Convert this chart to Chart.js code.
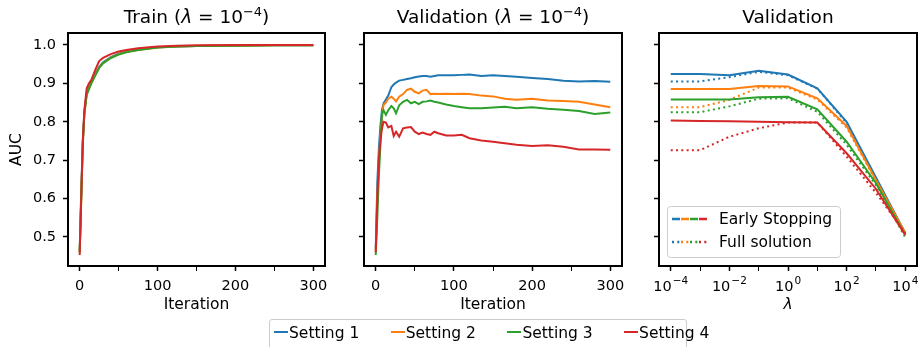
<!DOCTYPE html>
<html>
<head>
<meta charset="utf-8">
<script src="https://cdn.jsdelivr.net/npm/chart.js@4.4.1/dist/chart.umd.min.js"></script>
<style>
  body { margin: 0; background: #fff; }
  #wrap { position: relative; width: 923px; height: 347px; overflow: hidden; font-family: "DejaVu Sans", sans-serif; color: #000; }
  #wrap canvas { position: absolute; left: 0; top: 0; }
  .titulo { position: absolute; top: 6px; font-size: 18.5px; line-height: 22px; text-align: center; white-space: nowrap; }
  .titulo sup { font-size: 13px; vertical-align: 7px; line-height: 0; }
  #leyenda { position: absolute; left: 269px; top: 319px; width: 418px; height: 30px; border: 1px solid #ccc; border-radius: 3px; box-sizing: border-box; }
  .item { position: absolute; top: 3px; font-size: 15.5px; line-height: 20px; white-space: nowrap; }
  .item span.linea { display: inline-block; width: 14px; height: 2px; vertical-align: 5px; margin-right: 1px; }
</style>
</head>
<body>
<div id="wrap">
  <canvas id="train" width="923" height="347"></canvas>
  <canvas id="valid" width="923" height="347"></canvas>
  <canvas id="lambda" width="923" height="347"></canvas>
  <div class="titulo" style="left:68px;width:257px">Train (<i>λ</i> = 10<sup>−4</sup>)</div>
  <div class="titulo" style="left:364px;width:258px">Validation (<i>λ</i> = 10<sup>−4</sup>)</div>
  <div class="titulo" style="left:659px;width:258px">Validation</div>
  <div id="leyenda"></div>
</div>
<script>
// Datos
var settings = ["Setting 1", "Setting 2", "Setting 3", "Setting 4"];
var colores = ["#1f77b4", "#ff7f0e", "#2ca02c", "#d62728"];

// Train (lambda = 1e-4)
var trainIter = [0, 2, 4, 6, 9, 12, 15, 20, 25, 30, 40, 50, 60, 75, 100, 125, 150, 200, 250, 300];
var trainAuc1 = [0.465, 0.62, 0.75, 0.825, 0.875, 0.89, 0.903, 0.925, 0.943, 0.955, 0.968, 0.977, 0.983, 0.988, 0.994, 0.996, 0.997, 0.998, 0.999, 0.999];
var trainAuc2 = [0.46, 0.61, 0.745, 0.82, 0.872, 0.887, 0.9, 0.922, 0.941, 0.953, 0.967, 0.976, 0.982, 0.987, 0.993, 0.996, 0.997, 0.998, 0.999, 0.999];
var trainAuc3 = [0.46, 0.6, 0.74, 0.82, 0.87, 0.885, 0.9, 0.92, 0.94, 0.952, 0.966, 0.975, 0.981, 0.987, 0.993, 0.996, 0.997, 0.998, 0.999, 0.999];
var trainAuc4 = [0.453, 0.6, 0.75, 0.83, 0.887, 0.9, 0.909, 0.935, 0.958, 0.966, 0.976, 0.983, 0.987, 0.991, 0.996, 0.998, 0.999, 1.0, 1.0, 1.0];

// Validation (lambda = 1e-4)
var validIter = [0, 2, 4, 6, 8, 10, 13, 16, 20, 23, 26, 30, 35, 40, 45, 50, 55, 60, 65, 70, 75, 80, 90, 100, 110, 120, 135, 150, 165, 180, 200, 220, 240, 260, 280, 300];
var validAuc1 = [0.47, 0.64, 0.73, 0.79, 0.83, 0.848, 0.858, 0.868, 0.89, 0.897, 0.902, 0.907, 0.909, 0.911, 0.913, 0.916, 0.918, 0.919, 0.919, 0.917, 0.919, 0.921, 0.921, 0.921, 0.922, 0.923, 0.919, 0.921, 0.919, 0.917, 0.914, 0.911, 0.907, 0.905, 0.906, 0.904];
var validAuc2 = [0.465, 0.6, 0.7, 0.76, 0.81, 0.844, 0.85, 0.86, 0.865, 0.86, 0.853, 0.865, 0.872, 0.883, 0.886, 0.878, 0.874, 0.881, 0.883, 0.872, 0.873, 0.872, 0.873, 0.872, 0.873, 0.872, 0.868, 0.866, 0.86, 0.857, 0.86, 0.855, 0.854, 0.852, 0.845, 0.838];
var validAuc3 = [0.453, 0.55, 0.66, 0.74, 0.822, 0.83, 0.818, 0.83, 0.841, 0.835, 0.822, 0.843, 0.852, 0.857, 0.848, 0.852, 0.846, 0.852, 0.853, 0.855, 0.852, 0.85, 0.845, 0.841, 0.838, 0.835, 0.835, 0.837, 0.839, 0.835, 0.838, 0.834, 0.831, 0.828, 0.82, 0.824];
var validAuc4 = [0.46, 0.6, 0.7, 0.75, 0.783, 0.8, 0.798, 0.785, 0.789, 0.763, 0.774, 0.761, 0.783, 0.785, 0.786, 0.774, 0.768, 0.772, 0.768, 0.766, 0.774, 0.77, 0.764, 0.764, 0.766, 0.757, 0.751, 0.748, 0.744, 0.74, 0.737, 0.739, 0.735, 0.728, 0.728, 0.727];

// Validation vs lambda
var lambdas = [1e-4, 1e-3, 1e-2, 1e-1, 1, 10, 100, 1000, 10000];
var esAuc1 = [0.924, 0.924, 0.921, 0.933, 0.923, 0.887, 0.80, 0.655, 0.51];
var esAuc2 = [0.885, 0.885, 0.885, 0.893, 0.892, 0.861, 0.789, 0.648, 0.511];
var esAuc3 = [0.858, 0.858, 0.858, 0.864, 0.865, 0.832, 0.748, 0.64, 0.505];
var esAuc4 = [0.803, 0.802, 0.801, 0.800, 0.799, 0.798, 0.718, 0.625, 0.505];
var fullAuc1 = [0.905, 0.905, 0.916, 0.93, 0.921, 0.886, 0.797, 0.65, 0.505];
var fullAuc2 = [0.838, 0.838, 0.857, 0.889, 0.889, 0.858, 0.785, 0.645, 0.508];
var fullAuc3 = [0.825, 0.825, 0.84, 0.86, 0.861, 0.826, 0.74, 0.635, 0.499];
var fullAuc4 = [0.726, 0.726, 0.761, 0.783, 0.798, 0.798, 0.709, 0.615, 0.51];

var yTicks = [0.5, 0.6, 0.7, 0.8, 0.9, 1.0];
var iterTicks = [0, 50, 100, 150, 200, 250, 300];
var lambdaExp = [-4, -3, -2, -1, 0, 1, 2, 3, 4];

var fuente = "'DejaVu Sans', sans-serif";

function pares(xs, ys) {
    var out = [];
    for (var i = 0; i < xs.length; i++) out.push({ x: xs[i], y: ys[i] });
    return out;
}

// marco negro alrededor del area del grafico
var marco = {
    id: 'marco',
    afterDraw: function (chart) {
        var a = chart.chartArea, ctx = chart.ctx;
        ctx.save();
        ctx.strokeStyle = '#000';
        ctx.lineWidth = 2;
        ctx.strokeRect(a.left, a.top, a.right - a.left, a.bottom - a.top);
        ctx.restore();
    }
};

function ejeY(ancho, conEtiquetas) {
    return {
        type: 'linear', min: 0.4245, max: 1.031,
        afterBuildTicks: function (s) { s.ticks = yTicks.map(function (v) { return { value: v }; }); },
        afterFit: function (s) { s.width = ancho; },
        grid: { drawOnChartArea: false, tickLength: 5, tickColor: '#000', tickWidth: 1.5 },
        border: { display: false },
        ticks: {
            padding: 7, color: '#000', font: { family: fuente, size: 14.5 },
            callback: function (v) { return conEtiquetas ? v.toFixed(1) : ''; }
        },
        title: { display: conEtiquetas, text: 'AUC', color: '#000', font: { family: fuente, size: 15.5 }, padding: { top: 8, bottom: 0 } }
    };
}

function ejeIter() {
    return {
        type: 'linear', min: -15, max: 315,
        afterBuildTicks: function (s) { s.ticks = iterTicks.map(function (v) { return { value: v }; }); },
        afterFit: function (s) { s.height = 81; },
        grid: {
            drawOnChartArea: false, tickLength: 5, tickColor: '#000',
            tickWidth: function (c) { return c.tick && c.tick.value % 100 ? 1 : 1.5; }
        },
        border: { display: false },
        ticks: {
            padding: 7, color: '#000', maxRotation: 0, autoSkip: false, font: { family: fuente, size: 14.5 },
            callback: function (v) { return v % 100 === 0 ? String(v) : ''; }
        },
        title: { display: true, text: 'Iteration', color: '#000', font: { family: fuente, size: 15.5 }, padding: { top: 0, bottom: 33 } }
    };
}

function opciones(padding, escalas) {
    return {
        responsive: false, animation: false, devicePixelRatio: 1, events: [],
        layout: { padding: padding },
        plugins: { legend: { display: false }, tooltip: { enabled: false } },
        elements: { point: { radius: 0 }, line: { borderWidth: 2, tension: 0 } },
        scales: escalas
    };
}

function seriesIter(xs, listas) {
    return listas.map(function (ys, i) {
        return {
            label: settings[i], data: pares(xs, ys), borderColor: colores[i],
            backgroundColor: colores[i], order: 4 - i
        };
    });
}

// Panel 1: Train
new Chart(document.getElementById('train').getContext('2d'), {
    type: 'line',
    data: { datasets: seriesIter(trainIter, [trainAuc1, trainAuc2, trainAuc3, trainAuc4]) },
    options: opciones({ left: 0, top: 33, right: 598, bottom: 0 }, { x: ejeIter(), y: ejeY(68, true) }),
    plugins: [marco]
});

// Panel 2: Validation
new Chart(document.getElementById('valid').getContext('2d'), {
    type: 'line',
    data: { datasets: seriesIter(validIter, [validAuc1, validAuc2, validAuc3, validAuc4]) },
    options: opciones({ left: 354, top: 33, right: 301, bottom: 0 }, { x: ejeIter(), y: ejeY(10, false) }),
    plugins: [marco]
});

// Panel 3: Validation vs lambda
var esListas = [esAuc1, esAuc2, esAuc3, esAuc4];
var fullListas = [fullAuc1, fullAuc2, fullAuc3, fullAuc4];
var lambdaSets = [];
for (var i = 0; i < 4; i++) {
    lambdaSets.push({ label: settings[i] + ' ES', data: pares(lambdas, esListas[i]), borderColor: colores[i], order: 8 - 2 * i });
    lambdaSets.push({ label: settings[i] + ' Full', data: pares(lambdas, fullListas[i]), borderColor: colores[i], borderDash: [2, 3.3], order: 7 - 2 * i });
}

// etiquetas 10^n con exponente elevado, como en matplotlib
var etiquetasLog = {
    id: 'etiquetasLog',
    afterDraw: function (chart) {
        var s = chart.scales.x, ctx = chart.ctx;
        ctx.save();
        ctx.fillStyle = '#000';
        ctx.textBaseline = 'alphabetic';
        lambdaExp.forEach(function (e) {
            if (e % 2 !== 0) return;
            var x = s.getPixelForValue(Math.pow(10, e));
            var exp = e < 0 ? '\u2212' + (-e) : String(e);
            ctx.font = '14.5px ' + fuente;
            var w1 = ctx.measureText('10').width;
            ctx.font = '10.5px ' + fuente;
            var w2 = ctx.measureText(exp).width;
            var x0 = x - (w1 + 1 + w2) / 2;
            ctx.font = '14.5px ' + fuente;
            ctx.fillText('10', x0, 290.5);
            ctx.font = '10.5px ' + fuente;
            ctx.fillText(exp, x0 + w1 + 1, 284);
        });
        ctx.restore();
    }
};

var leyendaLambda = {
    id: 'leyendaLambda',
    afterDraw: function (chart) {
        var ctx = chart.ctx;
        ctx.save();
        ctx.fillStyle = 'rgba(255,255,255,0.8)';
        ctx.strokeStyle = '#cccccc';
        ctx.lineWidth = 1;
        ctx.beginPath();
        ctx.roundRect(667.5, 206.5, 173, 51, 3);
        ctx.fill();
        ctx.stroke();
        var filas = [{ y: 219, texto: 'Early Stopping', dash: [8, 3] }, { y: 242, texto: 'Full solution', dash: [2, 3.3] }];
        filas.forEach(function (f) {
            for (var k = 0; k < 4; k++) {
                ctx.strokeStyle = colores[k];
                ctx.lineWidth = 2.5;
                ctx.setLineDash(f.dash);
                ctx.beginPath();
                ctx.moveTo(672 + k * 9, f.y);
                ctx.lineTo(672 + (k + 1) * 9 - (f.dash[0] > 4 ? 1 : 0), f.y);
                ctx.stroke();
            }
            ctx.setLineDash([]);
            ctx.fillStyle = '#000';
            ctx.font = '15.5px ' + fuente;
            ctx.textBaseline = 'middle';
            ctx.fillText(f.texto, 719, f.y + 1);
        });
        ctx.restore();
    }
};

new Chart(document.getElementById('lambda').getContext('2d'), {
    type: 'line',
    data: { datasets: lambdaSets },
    options: opciones({ left: 649, top: 33, right: 6, bottom: 0 }, {
        x: {
            type: 'logarithmic', min: Math.pow(10, -4.4), max: Math.pow(10, 4.4),
            afterBuildTicks: function (s) { s.ticks = lambdaExp.map(function (e) { return { value: Math.pow(10, e) }; }); },
            afterFit: function (s) { s.height = 81; },
            grid: {
                drawOnChartArea: false, tickLength: 5, tickColor: '#000',
                tickWidth: function (c) { return c.tick && Math.round(Math.log10(c.tick.value)) % 2 ? 1 : 1.5; }
            },
            border: { display: false },
            ticks: {
                padding: 7, color: '#000', maxRotation: 0, autoSkip: false, font: { family: fuente, size: 14.5 },
                callback: function () { return ''; }
            },
            title: { display: true, text: 'λ', color: '#000', font: { family: fuente, size: 15.5, style: 'italic' }, padding: { top: 0, bottom: 33 } }
        },
        y: ejeY(10, false)
    }),
    plugins: [marco, etiquetasLog, leyendaLambda]
});

// Leyenda inferior
var ley = document.getElementById('leyenda');
for (var j = 0; j < settings.length; j++) {
    var d = document.createElement('div');
    d.className = 'item';
    d.style.left = (4 + j * 116.7) + 'px';
    d.innerHTML = '<span class="linea" style="background:' + colores[j] + '"></span>' + settings[j];
    ley.appendChild(d);
}
</script>
</body>
</html>
